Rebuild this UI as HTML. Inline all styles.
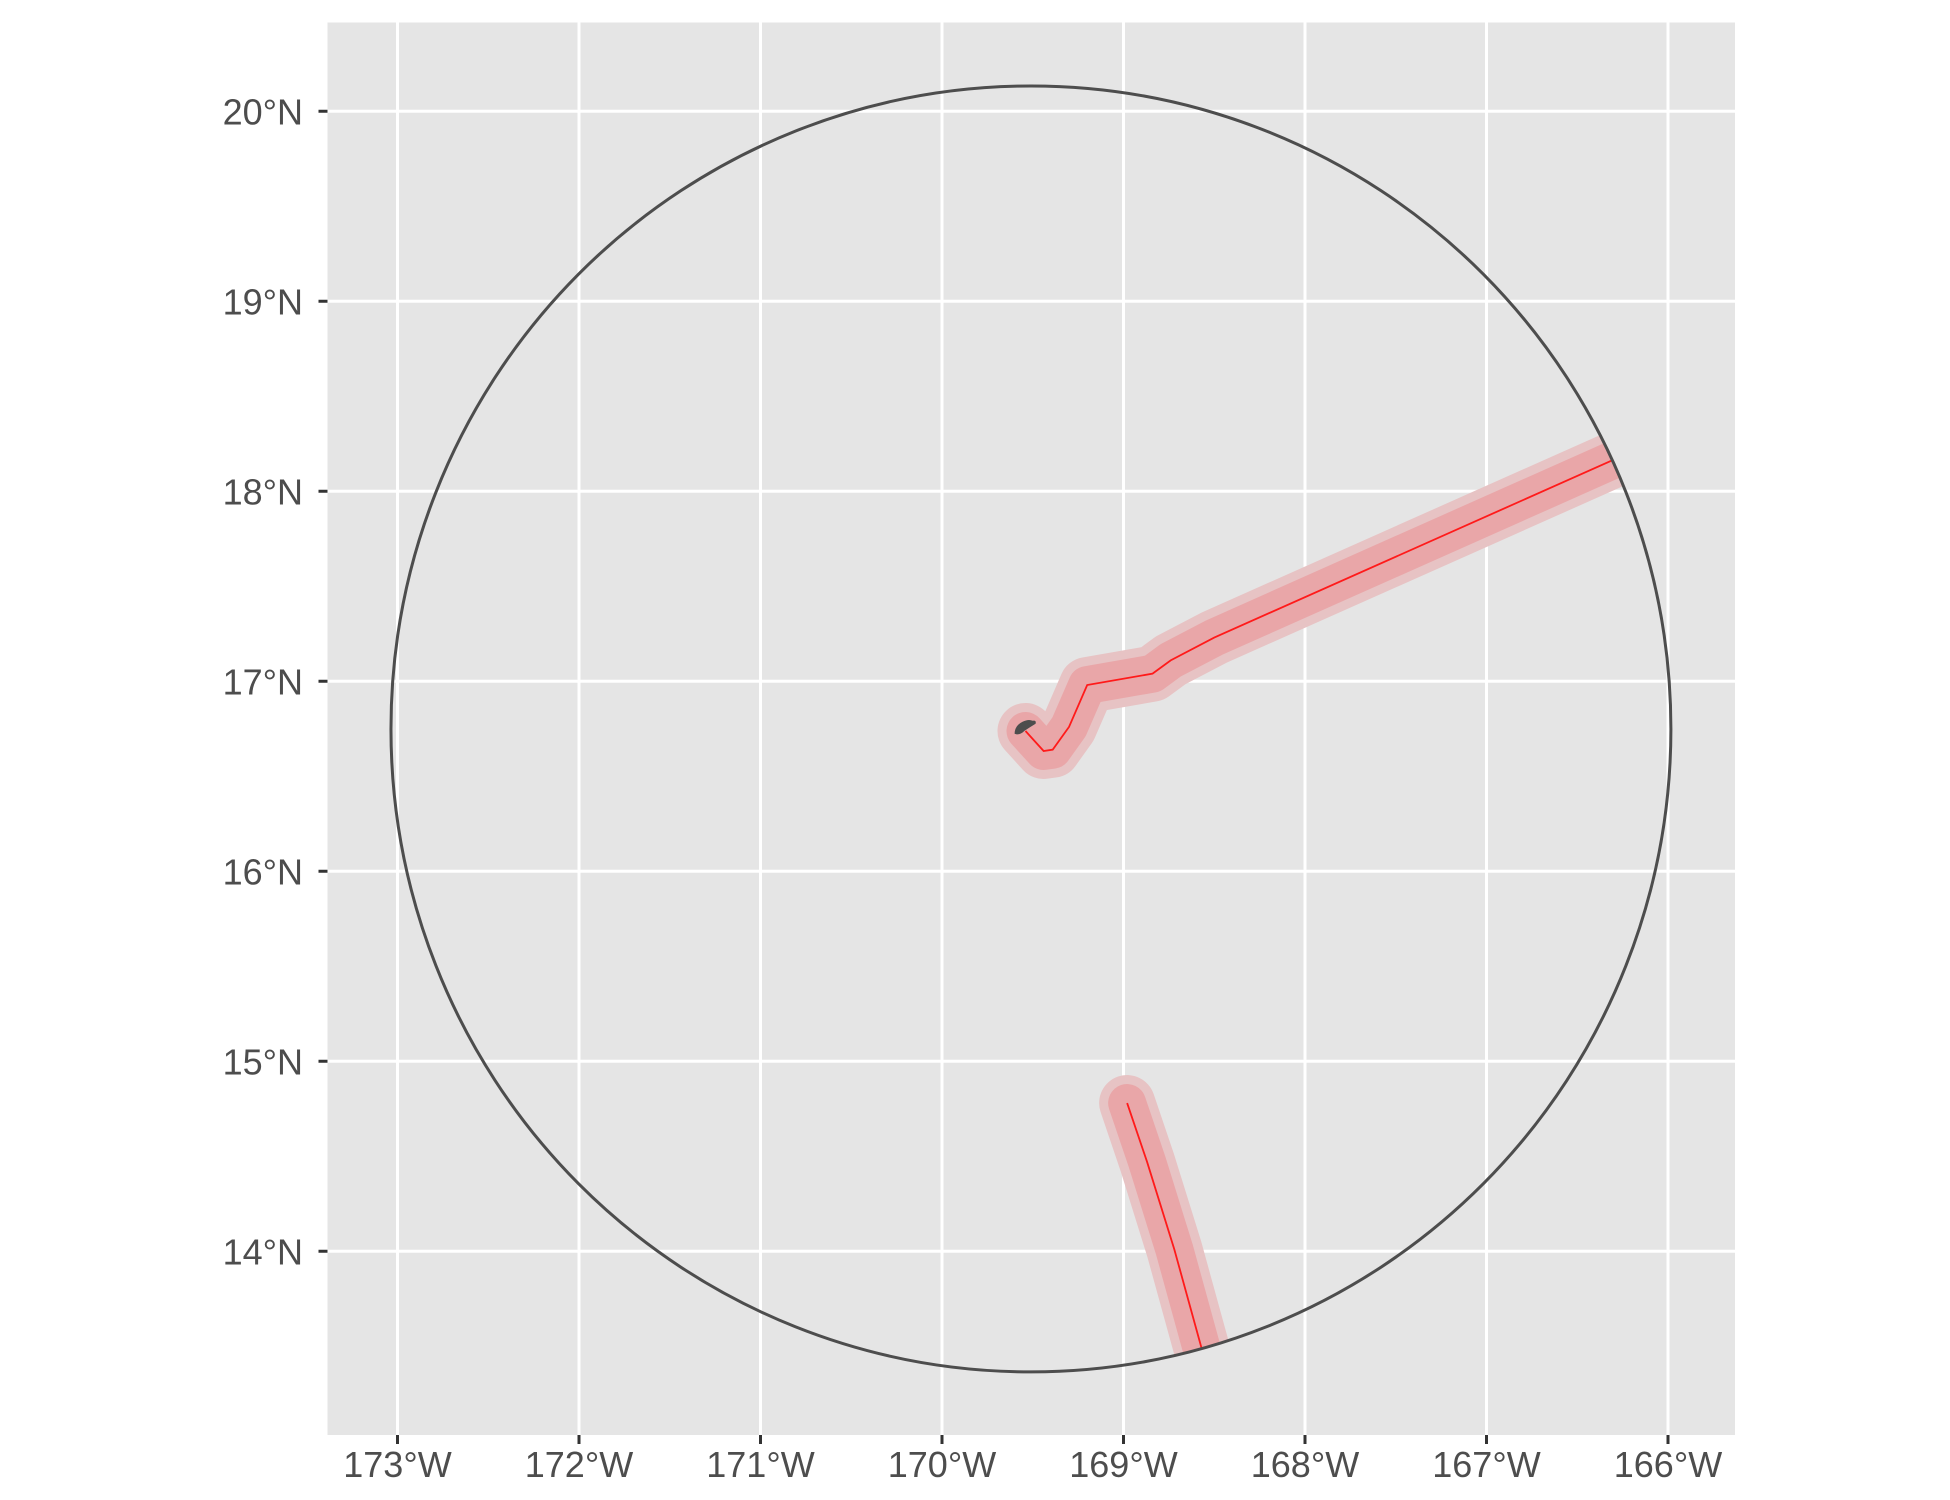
<!DOCTYPE html>
<html><head><meta charset="utf-8"><style>
html,body{margin:0;padding:0;background:#fff;}
svg{display:block;font-family:"Liberation Sans",sans-serif;}
</style></head><body>
<svg id="chart" width="1950" height="1500" viewBox="0 0 1950 1500">
<rect x="327.5" y="22.5" width="1407.5" height="1412.5" fill="#e5e5e5"/>
<g id="grid"></g>
<g id="axes"></g>
<g id="marks"></g>
</svg>
<script>
const lonTicks = [-173,-172,-171,-170,-169,-168,-167,-166];
const lonLabels = ["173°W","172°W","171°W","170°W","169°W","168°W","167°W","166°W"];
const latTicks = [20,19,18,17,16,15,14];
const latLabels = ["20°N","19°N","18°N","17°N","16°N","15°N","14°N"];
const track1Lon = [-166.29,-168.50,-168.74,-168.84,-169.20,-169.30,-169.39,-169.44,-169.54];
const track1Lat = [18.17,17.23,17.11,17.04,16.98,16.76,16.64,16.633,16.738];
const track2Lon = [-168.98,-168.87,-168.72,-168.57];
const track2Lat = [14.78,14.47,14.01,13.49];
const circleCenter = [-169.51,16.749];
const circleRadiusLon = 3.526;
const circleRadiusLat = 3.384;
const islandLon = [-169.545];
const islandLat = [16.755];

const X0=327.5,X1=1735,Y0=22.5,Y1=1435;
function xs(lon){return 397.5+(lon+173)*181.5;}
function ys(lat){return 111.25+(20-lat)*190;}
const NS="http://www.w3.org/2000/svg";
function mk(tag,attrs,parent){const e=document.createElementNS(NS,tag);for(const k in attrs)e.setAttribute(k,attrs[k]);parent.appendChild(e);return e;}
const grid=document.getElementById('grid'),axes=document.getElementById('axes'),marks=document.getElementById('marks');

lonTicks.forEach((v,i)=>{
  const x=xs(v);
  const g=mk('line',{x1:x,x2:x,y1:Y0,y2:Y1,stroke:'#fff','stroke-width':3},grid);
  
  
  const t=mk('line',{x1:x,x2:x,y1:Y1,y2:Y1+9,stroke:'#333','stroke-width':3},axes);
  
  
  const l=mk('text',{x:x,y:1477,'text-anchor':'middle','font-size':36,fill:'#4d4d4d'},axes);
  l.textContent=lonLabels[i];
  
  
});
latTicks.forEach((v,i)=>{
  const y=ys(v);
  const g=mk('line',{x1:X0,x2:X1,y1:y,y2:y,stroke:'#fff','stroke-width':3},grid);
  
  
  const t=mk('line',{x1:X0-9,x2:X0,y1:y,y2:y,stroke:'#333','stroke-width':3},axes);
  
  
  const l=mk('text',{x:303,y:y+13,'text-anchor':'end','font-size':36,fill:'#4d4d4d'},axes);
  l.textContent=latLabels[i];
  
  
});

function pts(lons,lats){return lons.map((v,i)=>xs(v)+','+ys(lats[i])).join(' ');}
const clip=mk('clipPath',{id:'circ'},marks);
mk('ellipse',{cx:xs(circleCenter[0]),cy:ys(circleCenter[1]),rx:circleRadiusLon*181.5,ry:circleRadiusLat*190},clip);
const tg=mk('g',{'clip-path':'url(#circ)'},marks);


function track(lons,lats,name){
  const pp=pts(lons,lats);
  const a=mk('polyline',{points:pp,fill:'none',stroke:'#e7c3c4','stroke-width':56,'stroke-linejoin':'round','stroke-linecap':'round'},tg);
  
  
  const b=mk('polyline',{points:pp,fill:'none',stroke:'#e9a6a8','stroke-width':38,'stroke-linejoin':'round','stroke-linecap':'round'},tg);
  
  
  const c=mk('polyline',{points:pp,fill:'none',stroke:'#ff1a1a','stroke-width':1.8},tg);
  
  
}
track(track1Lon,track1Lat,'track-1');
track(track2Lon,track2Lat,'track-2');
const circ=mk('ellipse',{cx:xs(circleCenter[0]),cy:ys(circleCenter[1]),rx:circleRadiusLon*181.5,ry:circleRadiusLat*190,fill:'none',stroke:'#4d4d4d','stroke-width':3},marks);


islandLon.forEach((v,i)=>{
  const cx=xs(v),cy=ys(islandLat[i]);
  const e=mk('path',{d:`M${cx-10},${cy+6} Q${cx-10},${cy-2} ${cx-2},${cy-6} Q${cx+4},${cy-9} ${cx+8},${cy-7} Q${cx+12},${cy-8} ${cx+11},${cy-4} Q${cx+6},${cy-1} ${cx},${cy+3} Q${cx-5},${cy+8} ${cx-10},${cy+6} Z`,fill:'#4d4d4d'},marks);
  
  
});
</script>
</body></html>
